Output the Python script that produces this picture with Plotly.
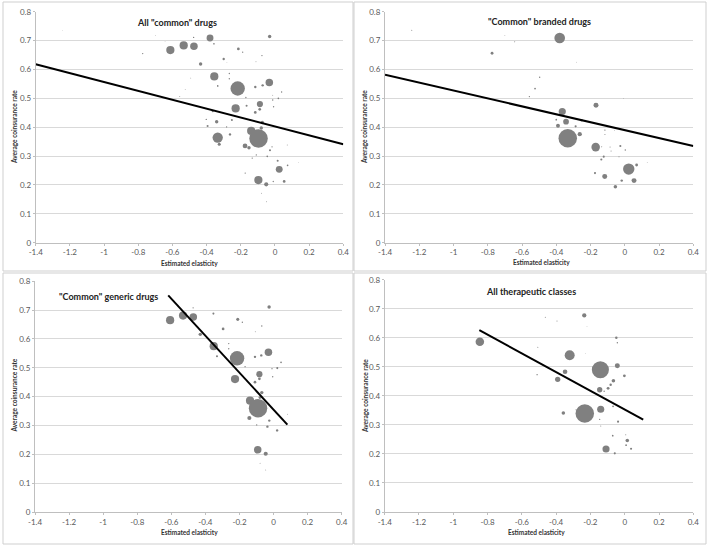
import plotly.graph_objects as go

W, H = 708, 546

# ---------------- data ----------------
X_TICKS = [-1.4, -1.2, -1.0, -0.8, -0.6, -0.4, -0.2, 0.0, 0.2, 0.4]
X_TICK_LABELS = ["-1.4", "-1.2", "-1", "-0.8", "-0.6", "-0.4", "-0.2", "0", "0.2", "0.4"]
Y_TICKS = [0, 0.1, 0.2, 0.3, 0.4, 0.5, 0.6, 0.7, 0.8]
Y_TICK_LABELS = ["0", "0.1", "0.2", "0.3", "0.4", "0.5", "0.6", "0.7", "0.8"]

TITLES = ['All "common" drugs', '"Common" branded drugs',
          '"Common" generic drugs', 'All therapeutic classes']
X_TITLE = "Estimated elasticity"
Y_TITLE = "Average coinsurance rate"

# Panel 1: all "common" drugs  (elasticity, coinsurance, bubble weight)
P1_X = [-0.612, -0.534, -0.474, -0.380, -0.031, -0.774, -0.476, -0.357, -0.214, -0.189,
        -0.076, -0.111, -0.300, -0.435, -0.355, -0.267, -0.267, -0.493, -0.218, -0.335,
        -0.033, -0.072, -0.115, -0.525, 0.039, -0.170, -0.013, 0.020, -0.088, -0.089,
        -0.230, -0.166, -0.115, -0.008, -0.364, -0.341, -0.252, -0.394, -0.283, -0.074,
        -0.263, -0.335, -0.326, -0.139, -0.096, -0.175, -0.152, -0.017, -0.029, 0.072,
        -0.109, -0.045, -0.133, 0.016, 0.025, 0.074, -0.174, -0.097, -0.051, 0.054,
        -0.010, -0.078, -0.049, 0.137, -0.013, -0.402, -1.245, -0.080, -0.557, -0.700,
        -0.643, -0.281]
P1_Y = [0.667, 0.683, 0.680, 0.709, 0.714, 0.655, 0.711, 0.689, 0.671, 0.660,
        0.648, 0.627, 0.636, 0.619, 0.576, 0.586, 0.568, 0.570, 0.534, 0.543,
        0.555, 0.545, 0.539, 0.531, 0.522, 0.503, 0.494, 0.500, 0.480, 0.462,
        0.465, 0.474, 0.451, 0.471, 0.455, 0.419, 0.425, 0.404, 0.401, 0.416,
        0.375, 0.364, 0.341, 0.387, 0.361, 0.335, 0.329, 0.332, 0.320, 0.338,
        0.304, 0.299, 0.293, 0.284, 0.254, 0.268, 0.241, 0.217, 0.202, 0.212,
        0.212, 0.171, 0.142, 0.277, 0.511, 0.427, 0.734, 0.397, 0.506, 0.717,
        0.696, 0.625]
P1_W = [144, 144, 121, 100, 25, 4, 4, 6, 16, 4,
        4, 2, 12, 25, 144, 4, 4, 2, 441, 6,
        121, 12, 12, 2, 4, 4, 4, 6, 81, 16,
        144, 9, 16, 4, 9, 25, 9, 9, 4, 25,
        12, 225, 20, 144, 729, 49, 25, 4, 9, 2,
        4, 6, 4, 9, 100, 6, 4, 144, 36, 16,
        4, 2, 2, 1, 2, 4, 1, 25, 2, 1,
        1, 1]

# Panel 2: "common" branded drugs
P2_X = [-1.244, -0.775, -0.380, -0.700, -0.643, -0.281, -0.497, -0.524, -0.557, -0.168,
        -0.365, -0.343, -0.400, -0.390, -0.287, -0.252, -0.333, -0.263, -0.170, -0.116,
        -0.116, -0.061, -0.123, -0.137, -0.174, -0.117, -0.055, -0.018, 0.023, 0.054,
        0.069, -0.026, 0.003, -0.034, -0.086, -0.080, -0.135, 0.131, -0.009]
P2_Y = [0.736, 0.656, 0.709, 0.717, 0.696, 0.625, 0.573, 0.534, 0.506, 0.476,
        0.454, 0.419, 0.426, 0.405, 0.403, 0.424, 0.362, 0.376, 0.331, 0.390,
        0.375, 0.389, 0.298, 0.288, 0.241, 0.229, 0.194, 0.215, 0.255, 0.215,
        0.269, 0.335, 0.321, 0.298, 0.331, 0.318, 0.332, 0.278, 0.499]
P2_W = [2, 16, 225, 1, 2, 1, 4, 6, 4, 49,
        100, 64, 6, 30, 9, 12, 676, 36, 144, 4,
        2, 1, 9, 9, 9, 49, 25, 12, 256, 49,
        16, 9, 4, 2, 2, 2, 2, 1, 1]

# Panel 3: "common" generic drugs
P3_X = [-0.607, -0.531, -0.471, -0.472, -0.353, -0.026, -0.210, -0.183, -0.069, -0.107,
        -0.296, -0.430, -0.351, -0.263, -0.263, -0.332, -0.214, -0.030, -0.072, -0.109,
        0.044, 0.022, -0.009, -0.167, -0.083, -0.083, -0.226, -0.109, -0.005, -0.069,
        -0.138, -0.091, -0.142, -0.025, 0.081, -0.099, -0.036, 0.021, -0.093, -0.046,
        -0.079, -0.046, -0.080]
P3_Y = [0.665, 0.681, 0.676, 0.708, 0.688, 0.711, 0.668, 0.658, 0.645, 0.625,
        0.635, 0.616, 0.575, 0.584, 0.566, 0.540, 0.533, 0.554, 0.543, 0.538,
        0.519, 0.499, 0.497, 0.504, 0.478, 0.462, 0.461, 0.450, 0.469, 0.414,
        0.386, 0.360, 0.326, 0.317, 0.339, 0.302, 0.296, 0.283, 0.216, 0.202,
        0.169, 0.146, 0.397]
P3_W = [144, 144, 121, 4, 9, 25, 20, 4, 4, 2,
        16, 25, 144, 4, 4, 9, 441, 121, 12, 12,
        6, 9, 4, 4, 81, 16, 144, 16, 4, 25,
        144, 729, 36, 12, 2, 4, 12, 12, 121, 36,
        2, 2, 16]

# Panel 4: all therapeutic classes
P4_X = [-0.845, -0.236, -0.463, -0.395, -0.220, -0.049, -0.043, -0.507, -0.321, -0.230,
        -0.142, -0.043, -0.348, -0.391, -0.511, -0.002, -0.066, -0.082, -0.097, -0.146,
        -0.120, -0.140, -0.233, -0.358, -0.068, -0.146, -0.039, -0.140, -0.070, 0.015,
        0.008, 0.037, -0.109, -0.058, 0.006, -0.284]
P4_Y = [0.586, 0.677, 0.671, 0.658, 0.638, 0.600, 0.583, 0.567, 0.540, 0.545,
        0.490, 0.504, 0.483, 0.457, 0.473, 0.469, 0.452, 0.438, 0.426, 0.421,
        0.416, 0.354, 0.339, 0.341, 0.364, 0.319, 0.311, 0.296, 0.263, 0.246,
        0.230, 0.218, 0.217, 0.202, 0.266, 0.352]
P4_W = [144, 36, 2, 2, 1, 12, 4, 2, 196, 1,
        576, 49, 42, 56, 4, 16, 25, 12, 16, 56,
        4, 100, 676, 25, 6, 4, 9, 2, 6, 25,
        6, 9, 100, 9, 2, 2]

# Fitted lines (end points)
T1_X, T1_Y = [-1.4, 0.4], [0.618, 0.341]
T2_X, T2_Y = [-1.4, 0.4], [0.582, 0.335]
T3_X, T3_Y = [-0.618, 0.081], [0.751, 0.303]
T4_X, T4_Y = [-0.848, 0.108], [0.626, 0.318]

# ---------------- layout (pixel geometry) ----------------
def fx(px):
    return px / W

def fy(py):
    return 1 - py / H

# plot areas: (left, top, right, bottom) in pixels
AREAS = [(35.7, 11.7, 343.3, 242.7),
         (385.0, 11.7, 693.3, 242.7),
         (35.0, 281.3, 341.7, 512.0),
         (384.7, 279.7, 693.3, 512.0)]
BORDERS = [(3, 2, 353, 271), (354, 2, 706, 271), (3, 273, 353, 544), (354, 273, 706, 544)]
TITLE_POS = [(177, 23, "center"), (539, 22, "center"), (56.5, 296.5, "left"), (531, 291.5, "center")]
XT_POS = [(189, 263), (541.5, 262), (189, 532), (536.5, 532)]
YT_POS = [(14, 127), (364, 127), (13.5, 396), (365, 396)]

FONT = "Lato, 'Liberation Sans', Arial, sans-serif"
BUBBLE = "rgb(128,128,128)"
MAX_DIAM = 18.5

panels = [(P1_X, P1_Y, P1_W, T1_X, T1_Y),
          (P2_X, P2_Y, P2_W, T2_X, T2_Y),
          (P3_X, P3_Y, P3_W, T3_X, T3_Y),
          (P4_X, P4_Y, P4_W, T4_X, T4_Y)]

fig = go.Figure()
shapes, annotations = [], []
for i, (xs, ys, ws, tx, ty) in enumerate(panels):
    n = i + 1
    xa = "x" if n == 1 else f"x{n}"
    ya = "y" if n == 1 else f"y{n}"
    sizeref = 2.0 * max(ws) / (MAX_DIAM ** 2)
    fig.add_trace(go.Scatter(
        x=xs, y=ys, mode="markers", xaxis=xa, yaxis=ya,
        marker=dict(size=ws, sizemode="area", sizeref=sizeref, color=BUBBLE,
                    opacity=1, line=dict(width=0)),
        showlegend=False, hoverinfo="x+y"))
    fig.add_trace(go.Scatter(
        x=tx, y=ty, mode="lines", xaxis=xa, yaxis=ya,
        line=dict(color="black", width=2), showlegend=False))

    l, t, r, b = AREAS[i]
    axis_common = dict(showline=True, linecolor="#bfbfbf", linewidth=1,
                       ticks="outside", ticklen=2, tickcolor="#bfbfbf",
                       tickfont=dict(family=FONT, size=8, color="#595959"),
                       zeroline=False, fixedrange=True, automargin=False)
    fig.layout[f"xaxis{'' if n == 1 else n}"] = dict(
        domain=[fx(l), fx(r)], range=[-1.4, 0.4], anchor=ya,
        tickmode="array", tickvals=X_TICKS, ticktext=X_TICK_LABELS,
        showgrid=False, **axis_common)
    fig.layout[f"yaxis{'' if n == 1 else n}"] = dict(
        domain=[fy(b), fy(t)], range=[0, 0.8], anchor=xa,
        tickmode="array", tickvals=Y_TICKS, ticktext=Y_TICK_LABELS,
        showgrid=True, gridcolor="#d9d9d9", gridwidth=1, **axis_common)

    bl, bt, br, bb = BORDERS[i]
    shapes.append(dict(type="rect", xref="paper", yref="paper",
                       x0=fx(bl), x1=fx(br), y0=fy(bb), y1=fy(bt),
                       line=dict(color="#cfcfcf", width=1), layer="below"))

    tx_, ty_, anc = TITLE_POS[i]
    annotations.append(dict(text=f"<b>{TITLES[i]}</b>", xref="paper", yref="paper",
                            x=fx(tx_), y=fy(ty_), xanchor=anc, yanchor="middle",
                            showarrow=False, font=dict(family=FONT, size=9, color="#222222")))
    xx, xy = XT_POS[i]
    annotations.append(dict(text=f"<b>{X_TITLE}</b>", xref="paper", yref="paper",
                            x=fx(xx), y=fy(xy), xanchor="center", yanchor="middle",
                            showarrow=False, font=dict(family=FONT, size=6.5, color="#333333")))
    yx, yy = YT_POS[i]
    annotations.append(dict(text=f"<b>{Y_TITLE}</b>", xref="paper", yref="paper",
                            x=fx(yx), y=fy(yy), xanchor="center", yanchor="middle",
                            textangle=-90, showarrow=False,
                            font=dict(family=FONT, size=6.5, color="#333333")))

fig.update_layout(width=W, height=H, margin=dict(l=0, r=0, t=0, b=0, pad=0),
                  paper_bgcolor="white", plot_bgcolor="white",
                  shapes=shapes, annotations=annotations, showlegend=False)

fig.write_html("out.html", config={"displayModeBar": False},
               post_script="document.body.style.margin='0';document.body.style.overflow='hidden';")
